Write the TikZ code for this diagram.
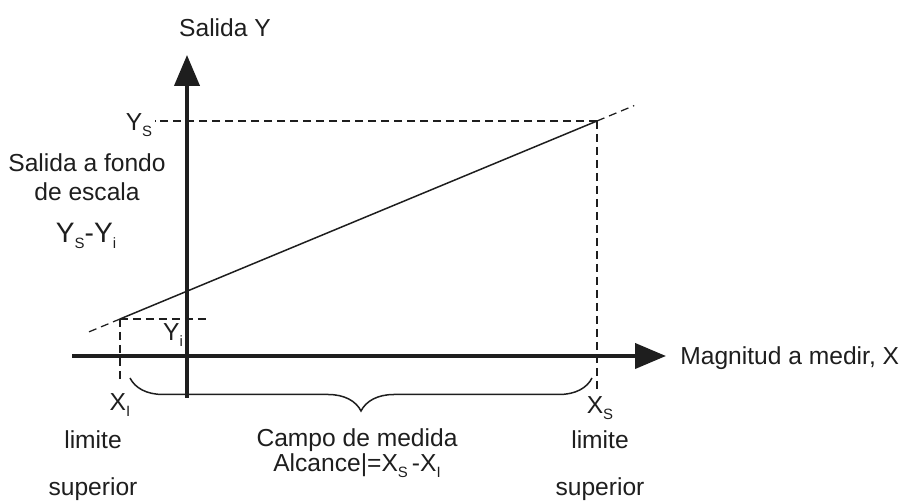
\documentclass[tikz,border=0pt]{standalone}
\usepackage{fontspec}
\setmainfont{Liberation Sans}
\usetikzlibrary{arrows.meta, positioning, decorations.pathreplacing, calc}
\definecolor{inkgray}{RGB}{30, 30, 30}
\newcommand{\subtxt}[1]{\raisebox{-0.45ex}{\fontsize{8.5}{9}\selectfont #1}}

\begin{document}
\begin{tikzpicture}[
  x=0.02cm, y=-0.02cm,
  axis/.style = {
    draw=inkgray, line width=0.08cm,
    -{Triangle[length=0.62cm, width=0.5cm]}
  },
  guide/.style = { draw=inkgray, line width=0.025cm, dash pattern=on 0.16cm off 0.1cm },
  curve/.style = { draw=inkgray, line width=0.03cm },
  lbl/.style = { font=\fontsize{14}{17}\selectfont, text=inkgray, inner sep=0pt }
]
\useasboundingbox (0,0) rectangle (909,502);

% axes
\coordinate (ybot) at (187,398);
\coordinate (ytop) at (187,55);
\coordinate (xleft) at (72,356);
\coordinate (xright) at (666,356);
\draw[axis] (ybot) -- (ytop);
\draw[axis] (xleft) -- (xright);

% characteristic line
\coordinate (pi) at (120,319);
\coordinate (ps) at (597,121);
\draw[guide] ($(pi)!-0.065!(ps)$) -- (pi);
\draw[curve] (pi) -- (ps);
\draw[guide] (ps) -- ($(ps)!-0.078!(pi)$);

% projections
\draw[guide] (ps) -- (155,121);
\draw[guide] (ps) -- (597,392);
\draw[guide] (pi) -- (206,319);
\draw[guide] (pi) -- (120,382);

% brace
\coordinate (bl) at (130,378);
\coordinate (br) at (592,378);
\draw[curve, decorate, decoration={brace, mirror, amplitude=0.66cm}] (bl) -- (br);

% labels
\node[lbl] (salida) at (225,28) {Salida Y};
\node[lbl, anchor=west] (magnitud) at (680,358) {Magnitud a medir, X};
\node[lbl] (ys) at (139,125) {Y\subtxt{S}};
\node[lbl] (yi) at (173,335) {Y\subtxt{i}};
\node[lbl] (xi) at (120,405) {X\subtxt{I}};
\node[lbl] (xs) at (600,408) {X\subtxt{S}};
\node[lbl, align=center, font=\fontsize{14}{16.5}\selectfont] (fondo) at (87,177) {Salida a fondo\\de escala};
\node[lbl, font=\fontsize{16}{19}\selectfont] (rango) at (86,236) {Y\subtxt{S}-Y\subtxt{i}};
\node[lbl, align=center, font=\fontsize{14}{14.3}\selectfont] (campo) at (357,453) {Campo de medida\\Alcance|=X\subtxt{S}\,-X\subtxt{I}};
\node[lbl] (liminf) at (93,440) {limite};
\node[lbl] (supinf) at (93,489) {superior};
\node[lbl] (limsup) at (600,440) {limite};
\node[lbl] (supsup) at (600,489) {superior};
\end{tikzpicture}
\end{document}
